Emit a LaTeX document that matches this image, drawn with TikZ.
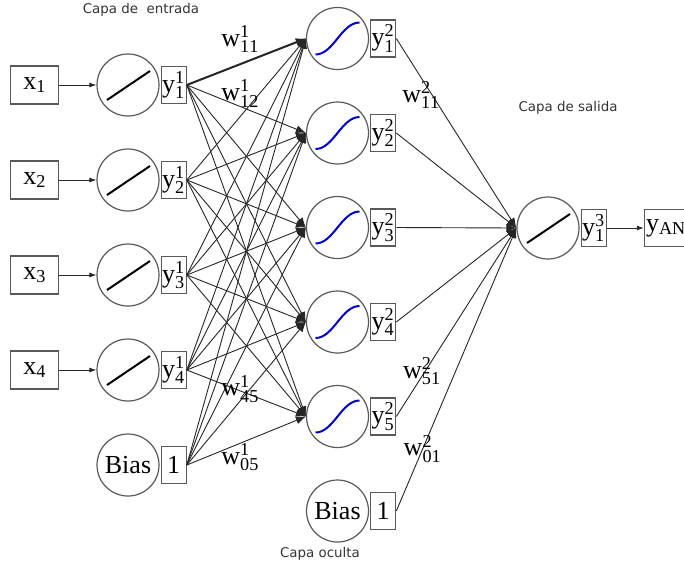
\documentclass[tikz,border=0pt]{standalone}
\usepackage{fontspec}
\setmainfont{Liberation Serif}
\newfontfamily\capafont{DejaVu Sans}
\usetikzlibrary{arrows.meta,positioning}
\tikzset{
    txt/.style={font=\fontsize{13}{14}\selectfont},
    neuron/.style={circle, draw=black!65, semithick, minimum size=31pt, inner sep=0pt, txt},
    lin/.style={neuron, path picture={\draw[black, line width=1pt] ([shift={(-10.5pt,-7.5pt)}]path picture bounding box.center) -- ++(21.5pt,14.5pt);}},
    sig/.style={neuron, path picture={\draw[blue!80!black, line width=1pt] ([shift={(-11pt,-8pt)}]path picture bounding box.center) .. controls +(9pt,0pt) and +(-9pt,0pt) .. ++(22pt,16pt);}},
    ybox/.style={rectangle, draw=black!65, semithick, minimum width=12.5pt, minimum height=18.5pt, inner sep=0.3pt, txt},
    xbox/.style={ybox, minimum width=24pt, minimum height=19pt},
    wlabel/.style={inner sep=0pt, txt},
    layer/.style={font=\capafont\fontsize{6.7}{8}\selectfont, text=black!80},
    syn/.style={-{Latex[length=5pt,width=4pt]}, line width=0.45pt, draw=black!85},
    feed/.style={-{Latex[length=3.5pt,width=2.5pt]}, line width=0.45pt, draw=black!85}
}

\begin{document}
\begin{tikzpicture}[x=0.5pt,y=-0.5pt]
    \useasboundingbox (0,0) rectangle (684,564);

    % capa de entrada
    \foreach \i/\yy in {1/85,2/180,3/275,4/370}{
        \node[lin] (in\i) at (128,\yy) {};
        \node[ybox, right=0.5pt of in\i] (y1\i) {$\mathrm{y^1_\i}$};
        \node[xbox, left=18.5pt of in\i] (x\i) {$\mathrm{x_\i}$};
        \draw[feed] (x\i) -- (in\i);
    }
    \node[neuron] (bias1) at (128,465) {Bias};
    \node[ybox, right=0.5pt of bias1] (one1) {1};

    % capa oculta
    \foreach \j/\yy in {1/38.5,2/133,3/227.5,4/322,5/416.5}{
        \node[sig] (h\j) at (337.5,\yy) {};
        \node[ybox, right=0.5pt of h\j] (y2\j) {$\mathrm{y^2_\j}$};
    }
    \node[neuron] (bias2) at (337.5,511) {Bias};
    \node[ybox, right=0.5pt of bias2] (one2) {1};

    % capa de salida
    \node[lin] (out) at (548,228) {};
    \node[ybox, right=0.5pt of out] (y31) {$\mathrm{y^3_1}$};
    \node[ybox, right=18.5pt of y31, anchor=west, inner sep=0.8pt] (ann) {$\mathrm{y_{ANN}}$};
    \draw[feed] (y31) -- (ann);

    % pesos
    \foreach \s in {y11,y12,y13,y14,one1}
        \foreach \j in {1,...,5}
            \draw[syn] (\s.east) -- (h\j.west);
    \draw[syn, line width=1pt] (y11.east) -- node[wlabel, pos=.45, yshift=12.5pt] {$\mathrm{w^1_{11}}$} (h1.west);
    \path (y11.east) -- node[wlabel, pos=.45, yshift=6.5pt] {$\mathrm{w^1_{12}}$} (h2.west);
    \path (y14.east) -- node[wlabel, pos=.45, yshift=1pt] {$\mathrm{w^1_{45}}$} (h5.west);
    \path (one1.east) -- node[wlabel, pos=.45, yshift=-7pt] {$\mathrm{w^1_{05}}$} (h5.west);

    \foreach \s in {y21,y22,y23,y24,y25,one2}
        \draw[syn] (\s.east) -- (out.west);
    \path (y21.east) -- node[wlabel, pos=.30, xshift=-5.5pt] {$\mathrm{w^2_{11}}$} (out.west);
    \path (y25.east) -- node[wlabel, pos=.24, xshift=-1.5pt] {$\mathrm{w^2_{51}}$} (out.west);
    \path (one2.east) -- node[wlabel, pos=.22] {$\mathrm{w^2_{01}}$} (out.west);

    \node[layer] (capa1) at (141,10) {Capa de~ entrada};
    \node[layer] (capa2) at (320,554) {Capa oculta};
    \node[layer] (capa3) at (568,108) {Capa de salida};
\end{tikzpicture}
\end{document}
